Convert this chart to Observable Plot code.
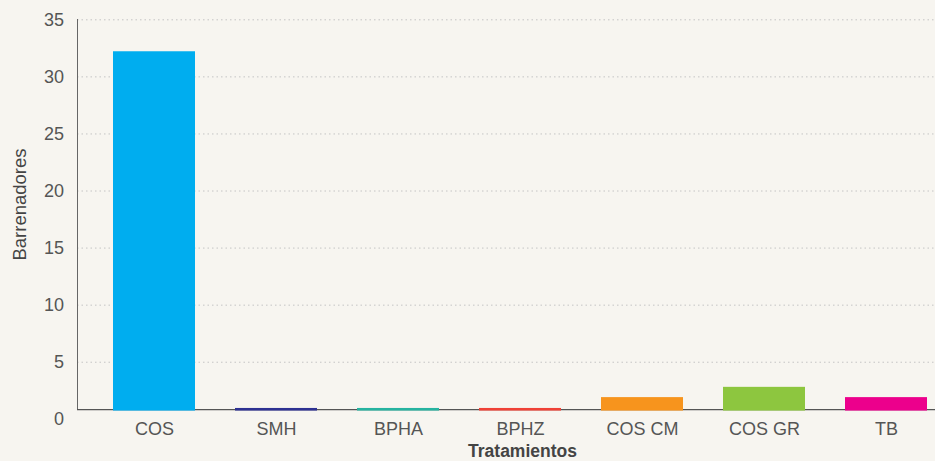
<!DOCTYPE html>
<html>
<head>
<meta charset="utf-8">
<script src="https://cdn.jsdelivr.net/npm/d3@7"></script>
<script src="https://cdn.jsdelivr.net/npm/@observablehq/plot@0.6"></script>
<style>
  html, body { margin: 0; padding: 0; background: #f7f5f0; }
  #chart { width: 935px; height: 461px; }
  svg { font-family: "Liberation Sans", Arial, Helvetica, sans-serif; }
</style>
</head>
<body>
<div id="chart"></div>
<script>
const categories = ["COS", "SMH", "BPHA", "BPHZ", "COS CM", "COS GR", "TB"];
const values = [32.2, 0.95, 0.95, 0.95, 1.9, 2.8, 1.9];
const colors = ["#00adef", "#2e3192", "#26b3a0", "#ef4136", "#f7941d", "#8dc63f", "#ec008c"];
const yTicks = [0, 5, 10, 15, 20, 25, 30, 35];
// the drawn baseline of the original sits slightly above the "0" tick
const barBase = 0.72;
const axisBase = 0.84;

const data = categories.map((c, i) => ({cat: c, val: values[i], color: colors[i]}));

const chart = Plot.plot({
  width: 935,
  height: 461,
  marginTop: 19,
  marginBottom: 52,
  marginLeft: 77,
  marginRight: 0,
  style: {background: "transparent", fontSize: "18px", color: "#555"},
  x: {type: "band", domain: categories, range: [71.6, 968.3], padding: 0.33, tickSize: 0, tickPadding: 13, label: null},
  y: {domain: [0, 35], range: [418.8, 19.3], ticks: yTicks, tickSize: 0, tickPadding: 13.5, label: null},
  color: {type: "identity"},
  marks: [
    Plot.gridY(yTicks.filter(t => t > 0), {stroke: "#c4c4c4", strokeOpacity: 1, strokeDasharray: "1.5,3"}),
    Plot.frame({anchor: "left", stroke: "#666"}),
    Plot.ruleY([axisBase], {stroke: "#555", strokeWidth: 1.2}),
    Plot.barY(data, {x: "cat", y1: barBase, y2: "val", fill: "color"}),
    Plot.text(["Tratamientos"], {frameAnchor: "bottom", dx: 16, dy: 47, fontWeight: "bold", fontSize: 17.5, fill: "#444"}),
    Plot.text(["Barrenadores"], {frameAnchor: "left", textAnchor: "middle", rotate: -90, dx: -57, dy: -10, fontSize: 18.5, fill: "#444"})
  ]
});
document.getElementById("chart").appendChild(chart);
</script>
</body>
</html>
